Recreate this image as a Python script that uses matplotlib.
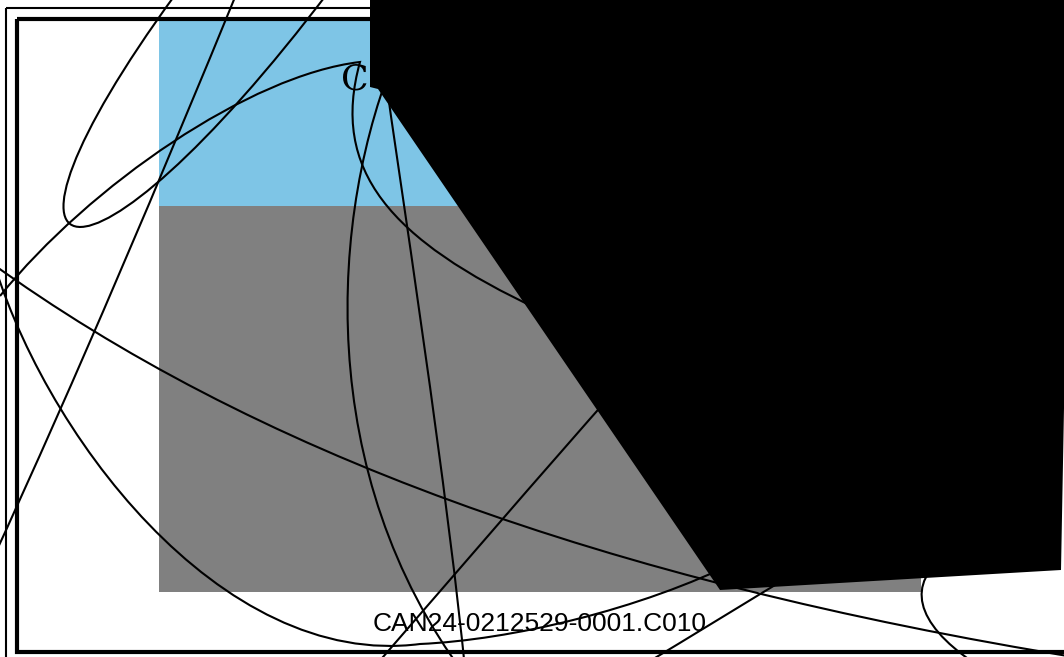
import matplotlib
matplotlib.use("Agg")
import matplotlib.pyplot as plt
from matplotlib.path import Path
from matplotlib.patches import PathPatch, Polygon, Rectangle

# canvas is in pixel units, y grows downward
W, H = 1064, 657

# filled areas (x0, y0, x1, y1)
sky_box = (159, 20, 921, 206)
ground_box = (159, 206, 921, 592)

# frames (x0, y0, x1, y1)
outer_frame = (6, 8, 1075, 670)
inner_frame = (17, 19, 1070, 652)

# black shape covering the right side
shadow_poly = [(370, -5), (1075, -5), (1066, 300), (1061, 570), (720, 590), (378, 89), (370, 87)]

# pen strokes as chains of cubic bezier points: P0, C1, C2, P1, C1, C2, P2 ...
loop_left = [(330, -10), (80, 320), (-40, 290), (175, -5)]
hook_curve = [(0, 296), (90, 185), (250, 75), (360, 62),
              (330, 170), (390, 240), (540, 310)]
slash_line = [(240, -15), (160, 180), (80, 370), (-10, 565)]
long_sweep = [(-10, 262), (250, 450), (600, 580), (1080, 658)]
low_arc = [(-10, 250), (40, 430), (220, 670), (420, 644),
           (510, 640), (640, 610), (740, 560)]
tall_loop = [(468, 700), (450, 500), (395, 150), (386, 80),
             (322, 260), (325, 520), (495, 712)]
cross_line = [(620, 385), (540, 475), (450, 580), (370, 672)]
short_line = [(640, 667), (690, 637), (750, 600), (800, 570)]
corner_arc = [(940, 560), (905, 590), (920, 630), (985, 670)]

title_text = "C"
code_text = "CAN24-0212529-0001.C010"

fig = plt.figure(figsize=(W / 100, H / 100), dpi=100)
ax = fig.add_axes([0, 0, 1, 1])
ax.set_xlim(0, W)
ax.set_ylim(H, 0)
ax.axis("off")


def box(b, **kw):
    return Rectangle((b[0], b[1]), b[2] - b[0], b[3] - b[1], **kw)


ax.add_patch(box(sky_box, facecolor="#7ec5e6", edgecolor="none", zorder=1))
ax.add_patch(box(ground_box, facecolor="#808080", edgecolor="none", zorder=1))
ax.add_patch(box(outer_frame, fill=False, edgecolor="black", lw=1.5, zorder=2))
ax.add_patch(box(inner_frame, fill=False, edgecolor="black", lw=3, zorder=2))

ax.text(341, 89, title_text, fontsize=26, family="DejaVu Serif",
        ha="left", va="baseline", zorder=3)
ax.text(540, 631, code_text, fontsize=19, family="Liberation Sans",
        ha="center", va="baseline", zorder=3)

for pts in [loop_left, hook_curve, slash_line, long_sweep, low_arc,
            tall_loop, cross_line, short_line, corner_arc]:
    codes = [Path.MOVETO] + [Path.CURVE4] * (len(pts) - 1)
    ax.add_patch(PathPatch(Path(pts, codes), fill=False, edgecolor="black",
                           lw=1.5, zorder=4))

ax.add_patch(Polygon(shadow_poly, closed=True, facecolor="black",
                     edgecolor="none", zorder=5))

fig.savefig("out.png", dpi=100)
